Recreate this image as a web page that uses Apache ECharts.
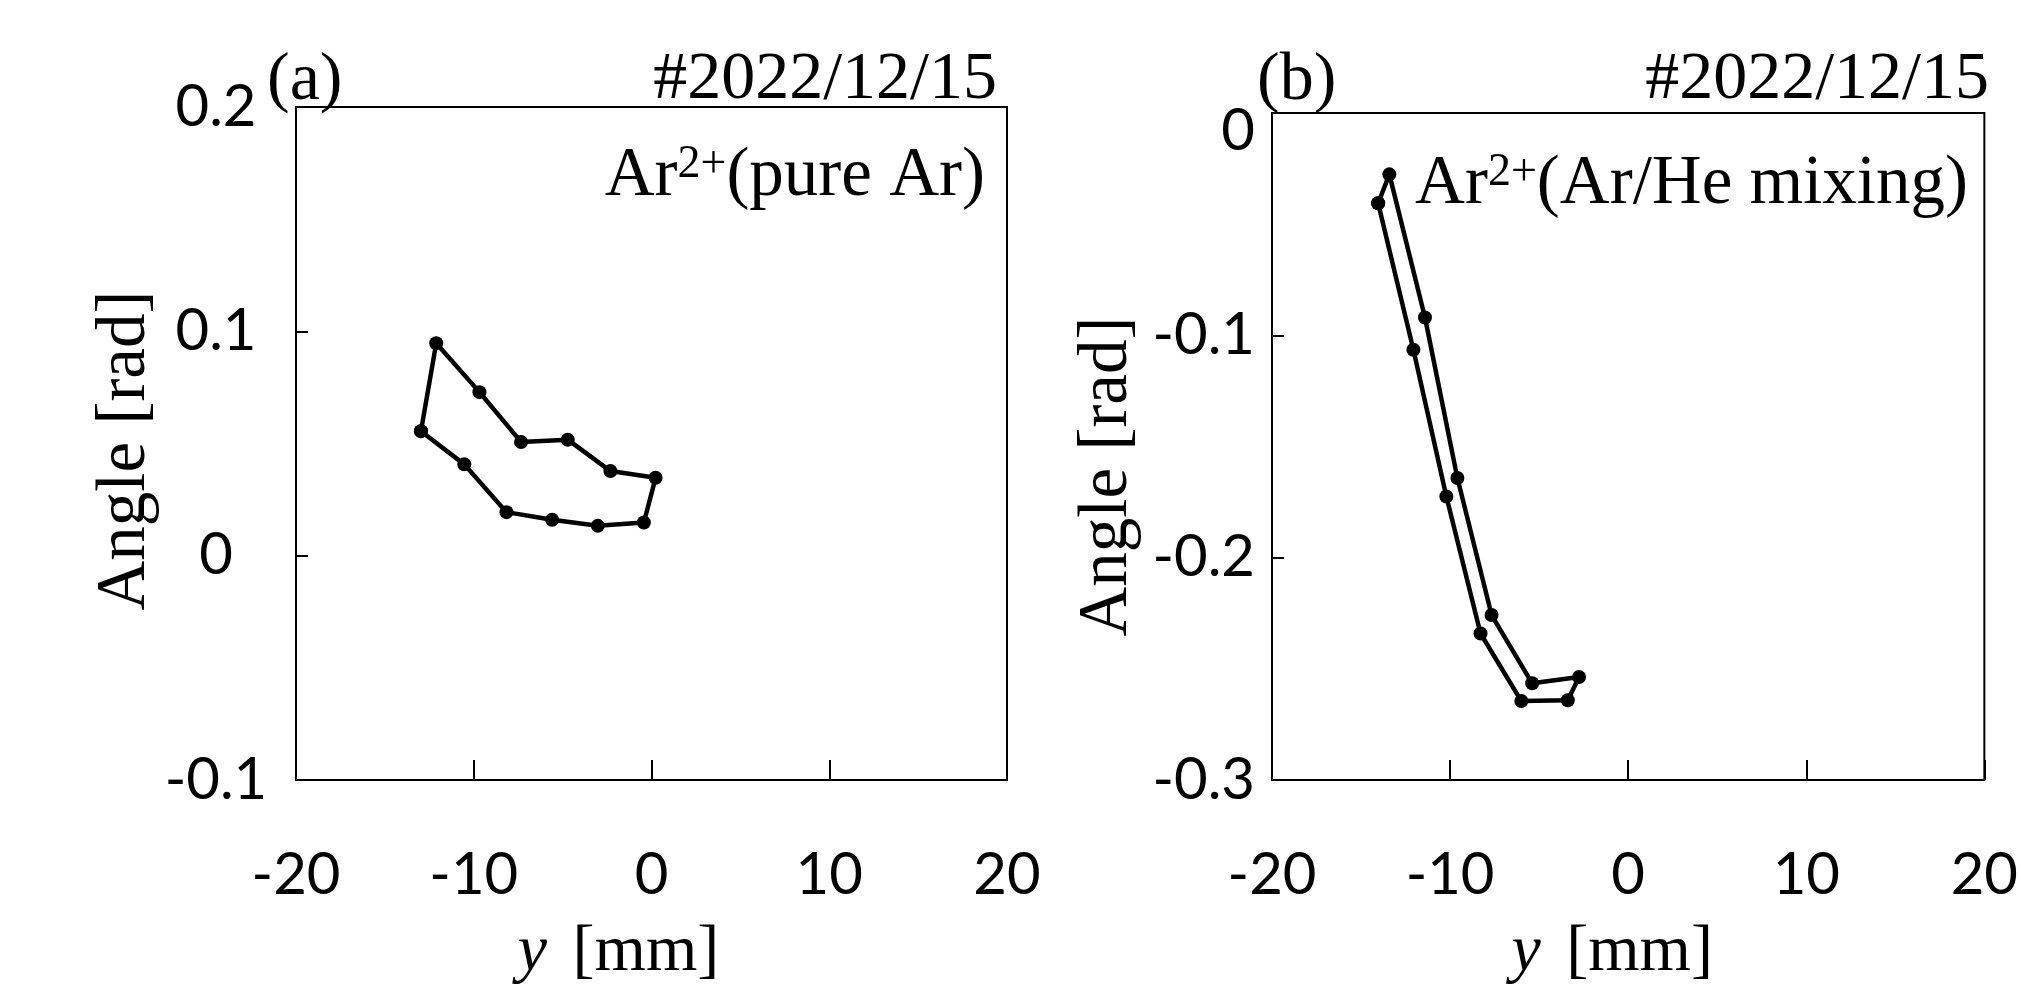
<!DOCTYPE html>
<html>
<head>
<meta charset="utf-8">
<script src="https://cdn.jsdelivr.net/npm/echarts@6/dist/echarts.min.js"></script>
<style>
html,body{margin:0;padding:0;background:#fff;}
#chart{width:2021px;height:991px;}
</style>
</head>
<body>
<div id="chart"></div>
<script>
// ---- data ----
// (a) Ar2+ (pure Ar): closed loop of positions y [mm] and angles [rad]
const pureArY     = [-12.97, -12.11, -9.68, -7.34, -4.71, -2.31, 0.23, -0.43, -3.02, -5.59, -8.16, -10.53];
const pureArAngle = [0.0555, 0.0947, 0.0729, 0.0507, 0.0517, 0.0377, 0.0347, 0.0148, 0.0133, 0.0160, 0.0194, 0.0407];
// (b) Ar2+ (Ar/He mixing)
const mixY        = [-14.04, -13.41, -11.41, -9.59, -7.67, -5.39, -2.76, -3.39, -6.00, -8.29, -10.21, -12.06];
const mixAngle    = [-0.0406, -0.0276, -0.0920, -0.1642, -0.2258, -0.2565, -0.2537, -0.2641, -0.2645, -0.2341, -0.1725, -0.1065];

const xRange = [-20, 20];
const xStep = 10;
const yRangeA = [-0.1, 0.2];
const yRangeB = [-0.3, 0];
const yStep = 0.1;

const panelLetters = ['(a)', '(b)'];
const shotLabel = '#2022/12/15';
const seriesNames = ['Ar2+(pure Ar)', 'Ar2+(Ar/He mixing)'];
const yName = 'Angle [rad]';

function loop(xs, ys) {
  const pts = xs.map((x, i) => [x, ys[i]]);
  pts.push(pts[0]);
  return pts;
}

const SANS = 'Lato';
const SERIF = 'Liberation Serif';

function xAxisCfg(gridIndex, nameShift) {
  return {
    gridIndex, type: 'value', min: xRange[0], max: xRange[1], interval: xStep,
    axisLine: { show: false, onZero: false },
    axisTick: { show: true, inside: true, length: 20, lineStyle: { color: '#000', width: 2 } },
    splitLine: { show: false },
    axisLabel: { show: true, margin: 66, color: '#000', fontFamily: SANS, fontSize: 58, lineHeight: 58, showMinLabel: true, showMaxLabel: true },
    name: '{i|y}{n| [mm]}', nameLocation: 'middle', nameGap: 140,
    nameTextStyle: { color: '#000', padding: [0, nameShift, 0, 0], rich: {
      i: { fontFamily: SERIF, fontStyle: 'italic', fontSize: 66, color: '#000', lineHeight: 66, padding: [0, 9, 0, 0] },
      n: { fontFamily: SERIF, fontSize: 66, color: '#000', lineHeight: 66 } } }
  };
}

function yAxisCfg(gridIndex, range, labelCfg, namePad) {
  return {
    gridIndex, type: 'value', min: range[0], max: range[1], interval: yStep,
    axisLine: { show: false, onZero: false },
    axisTick: { show: true, inside: true, length: 12, lineStyle: { color: '#000', width: 2 } },
    splitLine: { show: false },
    axisLabel: Object.assign({ show: true, color: '#000', fontFamily: SANS, fontSize: 58, showMinLabel: true, showMaxLabel: true }, labelCfg),
    name: yName, nameLocation: 'middle', nameRotate: 90, nameGap: 130,
    nameTextStyle: { color: '#000', fontFamily: SERIF, fontSize: 69, padding: namePad }
  };
}

function seriesCfg(idx, data) {
  return {
    name: seriesNames[idx], type: 'line', xAxisIndex: idx, yAxisIndex: idx,
    data, smooth: false, symbol: 'circle', symbolSize: 14, showSymbol: true,
    lineStyle: { color: '#000', width: 4.5 }, itemStyle: { color: '#000' },
    animation: false, z: 5
  };
}

function supText(name) {
  const m = name.match(/^(Ar)(2\+)(.*)$/);
  return '{m|' + m[1] + '}{s|' + m[2] + '}{m|' + m[3] + '}';
}
const supRich = {
  m: { fontFamily: SERIF, fontSize: 69, lineHeight: 69, fill: '#000', color: '#000' },
  s: { fontFamily: SERIF, fontSize: 46, lineHeight: 50, verticalAlign: 'top', fill: '#000', color: '#000' }
};

const fmt1 = v => String(Math.round(v * 10) / 10);

const chart = echarts.init(document.getElementById('chart'), null, { renderer: 'canvas' });
chart.setOption({
  backgroundColor: '#fff',
  animation: false,
  grid: [
    { left: 296, top: 107, width: 711, height: 688, show: true, borderColor: '#000', borderWidth: 2, backgroundColor: 'transparent' },
    { left: 1272, top: 113, width: 720, height: 690, show: true, borderColor: '#000', borderWidth: 2, backgroundColor: 'transparent' }
  ],
  xAxis: [xAxisCfg(0, 66), xAxisCfg(1, 32)],
  yAxis: [
    yAxisCfg(0, yRangeA, { margin: 80, align: 'center', formatter: fmt1 }, [0, 14, 0, 0]),
    yAxisCfg(1, yRangeB, { margin: 17, align: 'right',
      formatter: v => Math.abs(v) < 1e-9 ? '{z|0}' : fmt1(v),
      rich: { z: { fontFamily: SANS, fontSize: 58, color: '#000', padding: [36, 0, 0, 0] } } }, [0, 60, 0, 0])
  ],
  series: [seriesCfg(0, loop(pureArY, pureArAngle)), seriesCfg(1, loop(mixY, mixAngle))],
  graphic: [
    { type: 'text', left: 267, top: 47, style: { text: panelLetters[0], font: '68px "Liberation Serif"', fill: '#000' } },
    { type: 'text', left: 1257, top: 47, style: { text: panelLetters[1], font: '68px "Liberation Serif"', fill: '#000' } },
    { type: 'text', right: 2021 - 997, top: 46, style: { text: shotLabel, font: '68px "Liberation Serif"', fill: '#000' } },
    { type: 'text', right: 2021 - 1989, top: 46, style: { text: shotLabel, font: '68px "Liberation Serif"', fill: '#000' } },
    { type: 'text', right: 2021 - 985, top: 142, style: { text: supText(seriesNames[0]), rich: supRich, fill: '#000' } },
    { type: 'text', right: 2021 - 1968, top: 150, style: { text: supText(seriesNames[1]), rich: supRich, fill: '#000' } }
  ]
});
</script>
</body>
</html>
